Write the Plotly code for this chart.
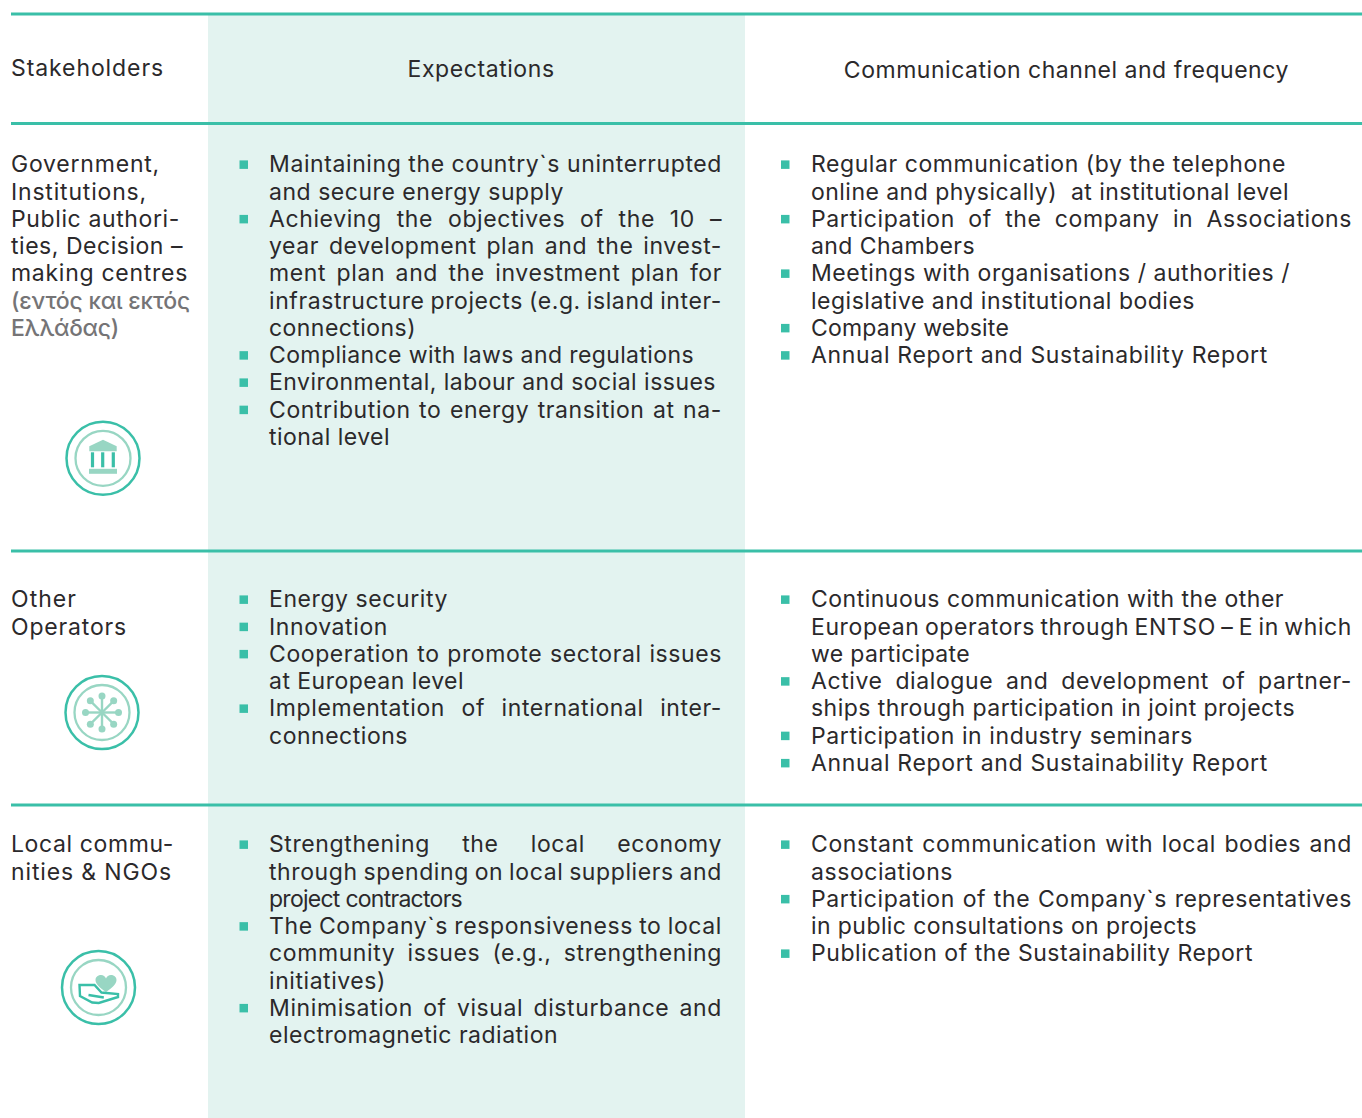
import json, math
import plotly.graph_objects as go

HEADERS = ["Stakeholders", "Expectations", "Communication channel and frequency"]

# "*" = first line of a bullet, "|" = line is justified to the column edge
STAKE_1 = ["Government,", "Institutions,", "Public authori-", "ties, Decision –", "making centres"]
STAKE_1_GR = ["(εντός και εκτός", "Ελλάδας)"]
STAKE_2 = ["Other", "Operators"]
STAKE_3 = ["Local commu-", "nities & NGOs"]

EXPECT_1 = ["*|Maintaining the country`s uninterrupted", "and secure energy supply",
            "*|Achieving the objectives of the 10 –", "|year development plan and the invest-",
            "|ment plan and the investment plan for", "|infrastructure projects (e.g. island inter-",
            "connections)", "*Compliance with laws and regulations",
            "*Environmental, labour and social issues", "*|Contribution to energy transition at na-",
            "tional level"]
EXPECT_2 = ["*Energy security", "*Innovation", "*|Cooperation to promote sectoral issues",
            "at European level", "*|Implementation of international inter-", "connections"]
EXPECT_3 = ["*|Strengthening the local economy", "|through spending on local suppliers and",
            "project contractors", "*|The Company`s responsiveness to local",
            "|community issues (e.g., strengthening", "initiatives)",
            "*|Minimisation of visual disturbance and", "electromagnetic radiation"]

CHANNEL_1 = ["*Regular communication (by the telephone", "online and physically)  at institutional level",
             "*|Participation of the company in Associations", "and Chambers",
             "*Meetings with organisations / authorities /", "legislative and institutional bodies",
             "*Company website", "*Annual Report and Sustainability Report"]
CHANNEL_2 = ["*Continuous communication with the other", "|European operators through ENTSO – E in which",
             "we participate", "*|Active dialogue and development of partner-",
             "ships through participation in joint projects", "*Participation in industry seminars",
             "*Annual Report and Sustainability Report"]
CHANNEL_3 = ["*|Constant communication with local bodies and", "associations",
             "*|Participation of the Company`s representatives", "in public consultations on projects",
             "*Publication of the Sustainability Report"]

W, H = 1362, 1118
TEAL, MINT, BAND, INK, GREY = "#3abfa8", "#98d6c3", "#e3f3f0", "#2b292b", "#757476"
FONT = "Inter, sans-serif"
SIZE = 23
TRACK = 0.6
LH = 27.25
RULES = [14, 123.5, 551, 805]
ROW_Y = [164.4, 599.4, 844.4]

# width each unjustified line occupies in the layout
LINE_WIDTH = {
    "Stakeholders": 153, "Expectations": 147, "Communication channel and frequency": 445,
    "Government,": 149, "Institutions,": 136, "Public authori-": 169, "ties, Decision –": 172,
    "making centres": 177, "(εντός και εκτός": 179, "Ελλάδας)": 108, "Other": 66, "Operators": 116,
    "Local commu-": 163, "nities & NGOs": 161,
    "and secure energy supply": 295, "connections)": 147, "Compliance with laws and regulations": 425,
    "Environmental, labour and social issues": 447, "tional level": 121, "Energy security": 179,
    "Innovation": 119, "at European level": 195, "connections": 139, "project contractors": 193,
    "initiatives)": 117, "electromagnetic radiation": 289,
    "Regular communication (by the telephone": 475, "online and physically)  at institutional level": 478,
    "and Chambers": 164, "Meetings with organisations / authorities /": 479,
    "legislative and institutional bodies": 384, "Company website": 198,
    "Annual Report and Sustainability Report": 457, "Continuous communication with the other": 473,
    "we participate": 159, "ships through participation in joint projects": 484,
    "Participation in industry seminars": 382, "associations": 142,
    "in public consultations on projects": 386, "Publication of the Sustainability Report": 442,
}

annotations, shapes, fits = [], [], {}


def put(text, x, y, color=INK, anchor="left", right=None, weight=400):
    annotations.append(dict(text=text, x=x, y=y, xref="x", yref="y", showarrow=False, xanchor=anchor,
                            yanchor="middle", borderpad=0, borderwidth=0,
                            font=dict(family=FONT, size=SIZE, color=color, weight=weight)))
    if right is not None:
        fits[len(annotations) - 1] = right - x


def bullets(lines, y0, bx, tx, edge):
    for i, raw in enumerate(lines):
        y = y0 + i * LH
        text = raw
        if text.startswith("*"):
            text = text[1:]
            shapes.append(dict(type="rect", x0=bx, x1=bx + 8.5, y0=y - 4, y1=y + 4.5, fillcolor=TEAL,
                               line_width=0, layer="above"))
        just = text.startswith("|")
        put(text[1:] if just else text, tx, y, right=edge if just else None)


shapes.append(dict(type="rect", x0=208, x1=745, y0=RULES[0], y1=H, fillcolor=BAND, line_width=0, layer="below"))
for r in RULES:
    shapes.append(dict(type="line", x0=11, x1=W, y0=r, y1=r, line=dict(color=TEAL, width=3), layer="above"))

put(HEADERS[0], 11.4, 68)
put(HEADERS[1], 480.5, 69, anchor="center")
put(HEADERS[2], 1066.5, 70, anchor="center")

for i, t in enumerate(STAKE_1):
    put(t, 11.4, ROW_Y[0] + i * LH)
for i, t in enumerate(STAKE_1_GR):
    put(t, 11.4, ROW_Y[0] + (i + len(STAKE_1)) * LH, color=GREY, weight=500)
for i, t in enumerate(STAKE_2):
    put(t, 11.4, ROW_Y[1] + i * LH)
for i, t in enumerate(STAKE_3):
    put(t, 11.4, ROW_Y[2] + i * LH)

for col, y0 in zip([EXPECT_1, EXPECT_2, EXPECT_3], ROW_Y):
    bullets(col, y0, 239.5, 269, 722)
for col, y0 in zip([CHANNEL_1, CHANNEL_2, CHANNEL_3], ROW_Y):
    bullets(col, y0, 781, 811, 1352)


def ring(cx, cy):
    shapes.append(dict(type="circle", x0=cx - 36.5, x1=cx + 36.5, y0=cy - 36.5, y1=cy + 36.5,
                       line=dict(color=TEAL, width=2.5)))
    shapes.append(dict(type="circle", x0=cx - 27.5, x1=cx + 27.5, y0=cy - 27.5, y1=cy + 27.5,
                       line=dict(color=MINT, width=2.3)))


def poly(pts, cx, cy, fill=MINT, line=None, width=0, close=True):
    d = "M" + " L".join(f"{cx + a:.1f},{cy + b:.1f}" for a, b in pts) + (" Z" if close else "")
    shapes.append(dict(type="path", path=d, fillcolor=fill if fill else "rgba(0,0,0,0)",
                       line=dict(color=line or "rgba(0,0,0,0)", width=width)))


# bank
c = (103, 458.3)
ring(*c)
poly([(-13.7, -12), (-13.7, -7), (13.7, -7), (13.7, -12), (0, -18.5)], *c)
poly([(-14, 10.5), (14, 10.5), (14, 15.5), (-14, 15.5)], *c)
for dx in (-10.5, -0.3, 10.3):
    poly([(dx - 1.6, -6), (dx + 1.6, -6), (dx + 1.6, 9), (dx - 1.6, 9)], *c, fill=TEAL)

# hub
c = (102, 712.5)
ring(*c)
for k in range(8):
    a = k * math.pi / 4
    ex, ey = 16.5 * math.cos(a), 16.5 * math.sin(a)
    poly([(0, 0), (ex, ey)], *c, fill=None, line=MINT, width=2.4, close=False)
    shapes.append(dict(type="circle", x0=c[0] + ex - 3.5, x1=c[0] + ex + 3.5, y0=c[1] + ey - 3.5, y1=c[1] + ey + 3.5,
                       fillcolor=MINT, line_width=0))

# hand and heart
c = (98.5, 987.5)
ring(*c)
hx, hy = c[0] + 7.5, c[1] + 4.5
shapes.append(dict(type="path", fillcolor=MINT, line_width=0,
                   path=f"M{hx},{hy} C{hx-6},{hy-4} {hx-10.5},{hy-8} {hx-10.5},{hy-12} "
                        f"C{hx-10.5},{hy-15.5} {hx-7.5},{hy-17} {hx-5},{hy-17} "
                        f"C{hx-2.5},{hy-17} {hx-1},{hy-15.5} {hx},{hy-13.5} "
                        f"C{hx+1},{hy-15.5} {hx+2.5},{hy-17} {hx+5},{hy-17} "
                        f"C{hx+7.5},{hy-17} {hx+10.5},{hy-15.5} {hx+10.5},{hy-12} "
                        f"C{hx+10.5},{hy-8} {hx+6},{hy-4} {hx},{hy} Z"))
poly([(-19, -2.5), (-4, -2.5), (3, 5), (19.5, 6.5), (19.5, 9.5), (0.3, 15.5), (-6.3, 15), (-18.5, 8.5)],
     *c, fill=None, line=TEAL, width=2.4)
poly([(-10, 7.5), (5.3, 10)], *c, fill=None, line=TEAL, width=2.4, close=False)

fig = go.Figure(go.Scatter(x=[], y=[]))
fig.update_layout(width=W, height=H, margin=dict(l=0, r=0, t=0, b=0), showlegend=False,
                  paper_bgcolor="white", plot_bgcolor="white", annotations=annotations, shapes=shapes,
                  xaxis=dict(range=[0, W], visible=False, fixedrange=True),
                  yaxis=dict(range=[H, 0], visible=False, fixedrange=True))

LEFT_ANCHORED = [i for i, a in enumerate(annotations) if a["xanchor"] == "left"]
POST = """
document.body.style.margin='0';
var fits=%s, lefts=%s, track=%s, widths=%s;
document.querySelectorAll('.annotation').forEach(function(g){
  var i=+g.getAttribute('data-index');
  var t=g.querySelector('text'); var b=t.getBBox();
  if(lefts.indexOf(i)>=0){t.setAttribute('text-anchor','start'); t.setAttribute('x',b.x);}
  var s=t.textContent;
  if(s in widths){
    t.style.letterSpacing=((widths[s]-t.getComputedTextLength())/s.length)+'px';
  } else {
    t.style.letterSpacing=track+'px';
  }
  if(i in fits){
    var n=(s.match(/ /g)||[]).length;
    if(n) t.style.wordSpacing=((fits[i]-t.getComputedTextLength())/n)+'px';
  }
});
""" % (json.dumps(fits), json.dumps(LEFT_ANCHORED), TRACK, json.dumps(LINE_WIDTH, ensure_ascii=False))

fig.write_html("out.html", config=dict(displayModeBar=False, staticPlot=True), post_script=POST)
